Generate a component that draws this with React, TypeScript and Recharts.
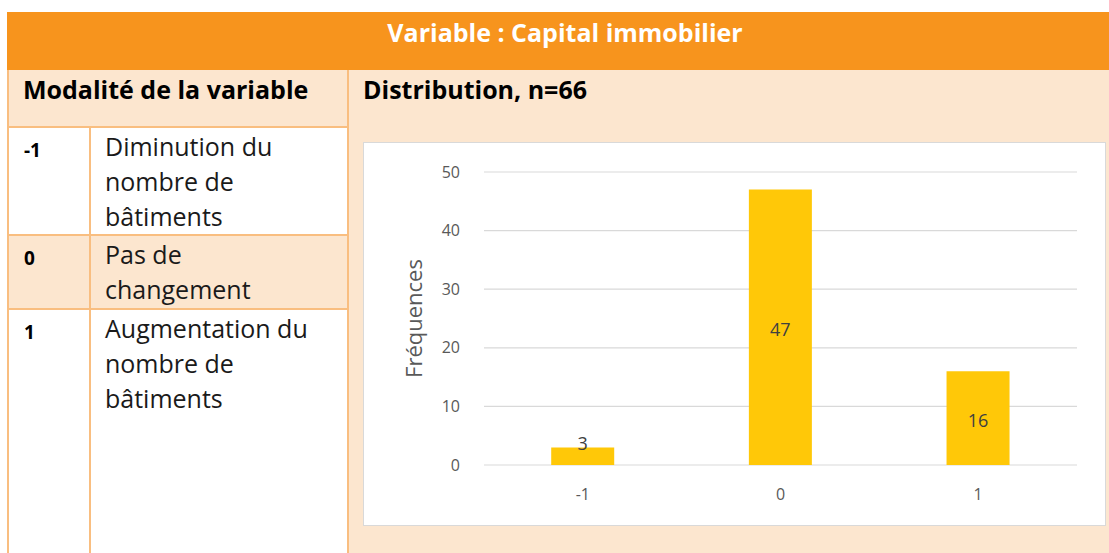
import { BarChart, Bar, XAxis, YAxis, CartesianGrid, LabelList } from 'recharts'

const categories = ['-1', '0', '1']
const frequencies = [3, 47, 16]
const yTicks = [0, 10, 20, 30, 40, 50]

const modalities = [
  { code: '-1', label: ['Diminution du', 'nombre de', 'bâtiments'] },
  { code: '0', label: ['Pas de', 'changement'] },
  { code: '1', label: ['Augmentation du', 'nombre de', 'bâtiments'] },
]

const FONT = '"Open Sans", Lato, sans-serif'
const ORANGE = '#F7941D'
const PEACH = '#FCE6CF'
const LINE = '#F9BE80'
const BAR = '#FFC808'

// rows of the left column (top, height, background)
const rowBoxes = [
  { top: 126, height: 108, bg: '#FFFFFF' },
  { top: 234, height: 74, bg: PEACH },
  { top: 308, height: 245, bg: '#FFFFFF' },
]

const chartData = categories.map((c, i) => ({ name: c, value: frequencies[i] }))

const YTitle = (props: any) => {
  const { viewBox } = props
  const cx = viewBox.x + 8
  const cy = viewBox.y + viewBox.height / 2
  return (
    <text
      x={cx}
      y={cy}
      transform={`rotate(-90 ${cx} ${cy})`}
      textAnchor="middle"
      dominantBaseline="central"
      fill="#595959"
      fontSize={22}
      fontFamily={FONT}
    >
      Fréquences
    </text>
  )
}

// Excel-like label: centered in bar, above the bar when it is too short
const BarValue = (props: any) => {
  const { x, y, width, height, value } = props
  const cy = height < 26 ? y - 4 : y + height / 2 + 2
  return (
    <text
      x={x + width / 2}
      y={cy}
      textAnchor="middle"
      dominantBaseline="central"
      fill="#404040"
      fontSize={18}
      fontFamily={FONT}
    >
      {value}
    </text>
  )
}

export default function App() {
  return (
    <div style={{ position: 'fixed', left: 0, top: 0, width: 1109, height: 553, background: '#fff', overflow: 'hidden', fontFamily: FONT }}>
      {/* title bar */}
      <div style={{ position: 'absolute', left: 7, top: 12, width: 1102, height: 58, background: ORANGE }} />
      <div style={{ position: 'absolute', left: 315, top: 12, width: 500, height: 58, lineHeight: '40px', textAlign: 'center', color: '#fff', fontWeight: 700, fontSize: 25 }}>
        Variable : Capital immobilier
      </div>

      {/* second row + right area */}
      <div style={{ position: 'absolute', left: 7, top: 70, width: 1102, height: 483, background: PEACH }} />
      <div style={{ position: 'absolute', left: 23, top: 70, lineHeight: '38px', fontWeight: 700, fontSize: 25, color: '#000' }}>
        Modalité de la variable
      </div>
      <div style={{ position: 'absolute', left: 363, top: 70, lineHeight: '38px', fontWeight: 700, fontSize: 25, color: '#000' }}>
        Distribution, n=66
      </div>

      {/* left column rows */}
      {modalities.map((m, i) => (
        <div
          key={m.code}
          style={{
            position: 'absolute',
            left: 7,
            top: rowBoxes[i].top,
            width: 341,
            height: rowBoxes[i].height,
            background: rowBoxes[i].bg,
            borderTop: `2px solid ${LINE}`,
            boxSizing: 'border-box',
          }}
        >
          <div style={{ position: 'absolute', left: 17, top: 4, fontWeight: 700, fontSize: 19, lineHeight: '36px', color: '#000' }}>{m.code}</div>
          <div style={{ position: 'absolute', left: 98, top: 1, fontSize: 25, lineHeight: '35px', color: '#1a1a1a' }}>
            {m.label.map((l) => (
              <div key={l}>{l}</div>
            ))}
          </div>
        </div>
      ))}
      <div style={{ position: 'absolute', left: 7, top: 70, width: 2, height: 483, background: LINE }} />
      <div style={{ position: 'absolute', left: 89, top: 126, width: 2, height: 427, background: LINE }} />
      <div style={{ position: 'absolute', left: 347, top: 70, width: 2, height: 483, background: LINE }} />

      {/* chart box */}
      <div style={{ position: 'absolute', left: 363, top: 142, width: 743, height: 384, background: '#fff', border: '1px solid #D9D9D9', boxSizing: 'border-box' }}>
        <BarChart width={741} height={382} data={chartData} margin={{ top: 29, right: 28, bottom: 20, left: 41 }} barCategoryGap="34%">
          <CartesianGrid vertical={false} stroke="#D9D9D9" strokeWidth={1.2} />
          <XAxis
            dataKey="name"
            axisLine={false}
            tickLine={false}
            tickSize={0}
            tickMargin={24}
            height={40}
            tick={{ fill: '#595959', fontSize: 16, fontFamily: FONT }}
          />
          <YAxis
            domain={[0, 50]}
            ticks={yTicks}
            axisLine={false}
            tickLine={false}
            tickSize={0}
            tickMargin={24}
            width={79}
            tick={{ fill: '#595959', fontSize: 16, fontFamily: FONT }}
            label={<YTitle />}
          />
          <Bar dataKey="value" fill={BAR} isAnimationActive={false}>
            <LabelList dataKey="value" content={<BarValue />} />
          </Bar>
        </BarChart>
      </div>
    </div>
  )
}
